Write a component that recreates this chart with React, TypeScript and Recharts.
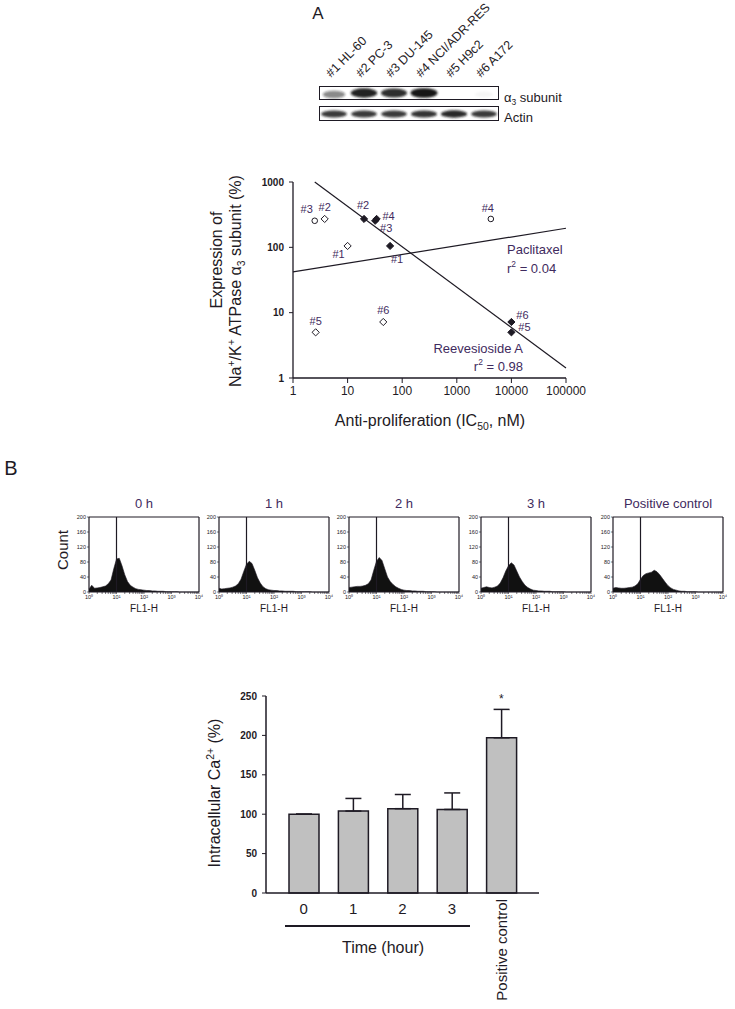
import React from "react";
import {
  BarChart, Bar, ErrorBar, XAxis, YAxis, ReferenceLine, ReferenceDot,
  ScatterChart, Scatter, AreaChart, Area,
} from "recharts";

const FONT = "'Liberation Sans', Arial, sans-serif";
const INK = "#1e1a24";
const PURPLE = "#3f2b5e";

// Panel A - blot lanes and band strength (0..1)
const LANES = ["#1 HL-60", "#2 PC-3", "#3 DU-145", "#4 NCI/ADR-RES", "#5 H9c2", "#6 A172"];
const ALPHA3_BAND = [0.5, 0.95, 0.9, 1.0, 0, 0.04];
const ACTIN_BAND = [0.85, 0.85, 0.85, 0.88, 0.92, 0.85];

// Panel A - expression vs IC50
const CELL_IDS = ["#1", "#2", "#3", "#4", "#5", "#6"];
const ALPHA3_EXPRESSION = [105, 272, 255, 272, 5.0, 7.2];
const IC50_PACLITAXEL = [10, 3.8, 2.5, 4200, 2.6, 45];
const IC50_REEVESIOSIDE = [60, 20, 32, 34, 10000, 10000];
const IC50_TICKS = [1, 10, 100, 1000, 10000, 100000];
const EXPR_TICKS = [1, 10, 100, 1000];
const FIT_PACLITAXEL = [{ x: 1, y: 42 }, { x: 100000, y: 196 }];
const FIT_REEVESIOSIDE = [{ x: 2.5, y: 1000 }, { x: 100000, y: 1.42 }];

// label nudges for the point ids (px)
const LABEL_OFFSET: Record<string, [number, number]> = {
  "open#1": [-9, 8], "open#2": [0, -12], "open#3": [-8, -12],
  "open#4": [-3, -11], "open#5": [0, -11], "open#6": [0, -12],
  "fill#1": [7, 13], "fill#2": [-1, -14], "fill#3": [11, 7],
  "fill#4": [12, -3], "fill#5": [13, -5], "fill#6": [11, -7],
};

// Panel B - flow cytometry (FL1-H, log10 channel)
const FLOW_TITLES = ["0 h", "1 h", "2 h", "3 h", "Positive control"];
const FL1_LOG = [
  0, 0.1, 0.2, 0.3, 0.4, 0.5, 0.6, 0.7, 0.8, 0.9, 1.0, 1.1, 1.2, 1.3, 1.4, 1.5, 1.6, 1.7, 1.8, 1.9,
  2.0, 2.1, 2.2, 2.3, 2.4, 2.5, 2.6, 2.7, 2.8, 2.9, 3.0, 3.1, 3.2, 3.3, 3.4, 3.5, 3.6, 3.7, 3.8, 3.9, 4.0,
];
const COUNT_0H = [8, 18, 10, 11, 12, 14, 16, 22, 32, 62, 88, 90, 70, 46, 28, 18, 13, 9, 7, 6, 5, 4, 4, 3, 3, 2, 2, 2, 1, 1, 1, 1, 1, 0, 0, 0, 0, 0, 0, 0, 0];
const COUNT_1H = [10, 8, 9, 10, 11, 13, 16, 22, 34, 55, 74, 82, 76, 58, 38, 24, 14, 9, 6, 5, 4, 4, 3, 3, 2, 2, 2, 2, 1, 1, 1, 1, 1, 1, 0, 0, 0, 0, 0, 0, 0];
const COUNT_2H = [12, 13, 14, 15, 15, 16, 18, 22, 32, 58, 82, 92, 84, 62, 40, 28, 20, 14, 10, 7, 5, 4, 4, 3, 3, 2, 2, 2, 1, 1, 1, 1, 0, 0, 0, 0, 0, 0, 0, 0, 0];
const COUNT_3H = [10, 12, 14, 12, 11, 13, 16, 24, 38, 56, 70, 78, 72, 56, 40, 28, 18, 12, 8, 5, 4, 3, 3, 2, 2, 2, 1, 1, 1, 1, 1, 0, 0, 0, 0, 0, 0, 0, 0, 0, 0];
const COUNT_POS = [10, 12, 11, 10, 10, 11, 12, 13, 16, 22, 34, 44, 49, 51, 53, 58, 54, 46, 36, 26, 17, 11, 7, 5, 3, 2, 2, 1, 1, 1, 1, 0, 0, 0, 0, 0, 0, 0, 0, 0, 0];
const FLOW_COUNTS = [COUNT_0H, COUNT_1H, COUNT_2H, COUNT_3H, COUNT_POS];
const FLOW_Y_TICKS = [0, 40, 80, 120, 160, 200];
const FLOW_GATE = 1;
const SUP = ["⁰", "¹", "²", "³", "⁴"];

// Panel B - intracellular Ca2+
const CA_GROUPS = ["0", "1", "2", "3", "Positive control"];
const CA_MEAN = [100, 104, 107, 106, 197];
const CA_SD = [0, 16, 18, 21, 36];
const CA_Y_TICKS = [0, 50, 100, 150, 200, 250];

// layout
const FLOW_LEFT = [89, 219, 349, 481, 613];
const FLOW_TOP = 517;
const FLOW_W = 110;
const FLOW_H = 75;
const BLOT_H = 14;

const flowMinor: number[] = [];
for (let d = 0; d < 4; d++) for (let k = 1; k <= 9; k++) flowMinor.push(d + Math.log10(k));
flowMinor.push(4);

const S = ({ up, children }: { up?: boolean; children: React.ReactNode }) => (
  <span style={{ fontSize: "0.65em", lineHeight: 0, verticalAlign: up ? "super" : "sub" }}>{children}</span>
);

function Txt({ x, y, size, color = INK, rot, align = "center", children }: {
  x: number; y: number; size: number; color?: string; rot?: boolean; align?: "left" | "center" | "right"; children: React.ReactNode;
}) {
  const tx = align === "center" ? "-50%" : align === "right" ? "-100%" : "0";
  return (
    <div style={{
      position: "absolute", left: x, top: y, whiteSpace: "nowrap", fontSize: size, lineHeight: 1,
      color, transform: `translate(${tx}, -50%)${rot ? " rotate(-90deg)" : ""}`,
    }}>{children}</div>
  );
}

const Box = ({ left, top, width, height }: { left: number; top: number; width: number; height: number }) => (
  <div style={{ position: "absolute", left, top, width, height, border: `1.5px solid ${INK}`, boxSizing: "border-box" }} />
);

const band = (key: "alpha3" | "actin", ryBase: number) => (p: any) => {
  const v = p.payload[key];
  if (!v) return <g />;
  const cx = p.x + p.width / 2;
  const cy = p.y + p.height - BLOT_H / 2 + (v < 0.6 ? 1.5 : 0);
  const rx = 9 + 4.5 * v;
  const ry = ryBase * (0.6 + 0.4 * v);
  return (
    <g>
      <defs>
        <filter id="blotBlur" x="-50%" y="-100%" width="200%" height="300%">
          <feGaussianBlur stdDeviation="1.2" />
        </filter>
      </defs>
      <ellipse cx={cx} cy={cy} rx={rx} ry={ry} fill={`rgba(25,25,25,${v})`} filter="url(#blotBlur)" />
    </g>
  );
};

const laneTick = (p: any) => {
  const x = p.x - 3;
  return (
    <text x={x} y={78} transform={`rotate(-45 ${x} 78)`} fontSize={12.5} fill={INK} fontFamily={FONT}>
      {p.payload.value}
    </text>
  );
};

const marker = (kind: "open" | "fill") => (p: any) => {
  const { cx, cy, payload } = p;
  const [dx, dy] = LABEL_OFFSET[kind + payload.id];
  const s = 3.6;
  const round = kind === "open" && (payload.id === "#3" || payload.id === "#4");
  return (
    <g>
      {round
        ? <circle cx={cx} cy={cy} r={2.8} fill="#fff" stroke={INK} strokeWidth={1} />
        : <path d={`M${cx},${cy - s}L${cx + s},${cy}L${cx},${cy + s}L${cx - s},${cy}Z`}
            fill={kind === "fill" ? INK : "#fff"} stroke={INK} strokeWidth={1} />}
      <text x={cx + dx} y={cy + dy} dy="0.35em" textAnchor="middle" fontSize={11} fill={PURPLE} fontFamily={FONT}>
        {payload.id}
      </text>
    </g>
  );
};

const caTick = (p: any) => {
  const { x, y, payload } = p;
  if (payload.value === "Positive control") {
    const ty = y - 4;
    return (
      <text x={x} y={ty} transform={`rotate(-90 ${x} ${ty})`} textAnchor="end" dy="0.35em"
        fontSize={15} fill={INK} fontFamily={FONT}>{payload.value}</text>
    );
  }
  return (
    <text x={x} y={y} dy="0.71em" textAnchor="middle" fontSize={15} fill={INK} fontFamily={FONT}>{payload.value}</text>
  );
};

export default function App() {
  const blotRows = LANES.map((lane, i) => ({ lane, alpha3: ALPHA3_BAND[i], actin: ACTIN_BAND[i] }));
  const paclitaxel = CELL_IDS.map((id, i) => ({ id, x: IC50_PACLITAXEL[i], y: ALPHA3_EXPRESSION[i] }));
  const reevesioside = CELL_IDS.map((id, i) => ({ id, x: IC50_REEVESIOSIDE[i], y: ALPHA3_EXPRESSION[i] }));
  const caRows = CA_GROUPS.map((group, i) => ({ group, mean: CA_MEAN[i], err: [0, CA_SD[i]] }));
  const lastCa = CA_GROUPS.length - 1;

  return (
    <div style={{
      position: "absolute", left: 0, top: 0, width: 735, height: 1009, background: "#fff",
      fontFamily: FONT, color: INK, overflow: "hidden",
    }}>
      <style>{`.recharts-surface{overflow:visible}.recharts-wrapper{overflow:visible}`}</style>
      <Txt x={318} y={13} size={17}>A</Txt>
      <Txt x={11} y={468} size={20}>B</Txt>

      {/* western blot */}
      <div style={{ position: "absolute", left: 319, top: 0 }}>
        <BarChart width={180} height={86 + BLOT_H} data={blotRows} margin={{ top: 0, right: 0, left: 0, bottom: 0 }} barCategoryGap={0}>
          <XAxis dataKey="lane" orientation="top" height={86} tickLine={false} axisLine={false} tick={laneTick} interval={0} />
          <YAxis hide domain={[0, 1]} />
          <Bar dataKey="alpha3" shape={band("alpha3", 4.8)} isAnimationActive={false} />
        </BarChart>
      </div>
      <Box left={319} top={86} width={180} height={BLOT_H} />
      <Txt x={504} y={97} size={13} align="left">α<S>3</S> subunit</Txt>

      <div style={{ position: "absolute", left: 319, top: 106 }}>
        <BarChart width={180} height={15} data={blotRows} margin={{ top: 0, right: 0, left: 0, bottom: 0 }} barCategoryGap={0}>
          <XAxis dataKey="lane" hide />
          <YAxis hide domain={[0, 1]} />
          <Bar dataKey="actin" shape={band("actin", 3.8)} isAnimationActive={false} />
        </BarChart>
      </div>
      <Box left={319} top={106} width={180} height={15} />
      <Txt x={504} y={117} size={13} align="left">Actin</Txt>

      {/* expression vs IC50 */}
      <div style={{ position: "absolute", left: 190, top: 150 }}>
        <ScatterChart width={400} height={290} margin={{ top: 32, right: 24, left: 0, bottom: 0 }}>
          <XAxis type="number" dataKey="x" scale="log" domain={[1, 100000]} ticks={IC50_TICKS} allowDataOverflow
            height={62} tickSize={5} tickMargin={3} interval={0}
            tick={{ fill: INK, fontSize: 12, fontFamily: FONT }}
            axisLine={{ stroke: INK, strokeWidth: 1.3 }} tickLine={{ stroke: INK }} />
          <YAxis type="number" dataKey="y" scale="log" domain={[1, 1000]} ticks={EXPR_TICKS} allowDataOverflow
            width={103} tickSize={4} tickMargin={5} interval={0}
            tick={{ fill: INK, fontSize: 10, fontWeight: "bold", fontFamily: FONT }}
            axisLine={{ stroke: INK, strokeWidth: 1.3 }} tickLine={{ stroke: INK }} />
          <ReferenceLine segment={FIT_PACLITAXEL} stroke={INK} strokeWidth={1.2} ifOverflow="visible" />
          <ReferenceLine segment={FIT_REEVESIOSIDE} stroke={INK} strokeWidth={1.2} ifOverflow="visible" />
          <Scatter data={paclitaxel} shape={marker("open")} isAnimationActive={false} />
          <Scatter data={reevesioside} shape={marker("fill")} isAnimationActive={false} />
        </ScatterChart>
      </div>
      <Txt x={217} y={260} size={16} rot>Expression of</Txt>
      <Txt x={236} y={281} size={16} rot>Na<S up>+</S>/K<S up>+</S> ATPase α<S>3</S> subunit (%)</Txt>
      <Txt x={430} y={421} size={16}>Anti-proliferation (IC<S>50</S>, nM)</Txt>
      <Txt x={507} y={249} size={13} color={PURPLE} align="left">Paclitaxel</Txt>
      <Txt x={507} y={268} size={13} color={PURPLE} align="left">r<S up>2</S> = 0.04</Txt>
      <Txt x={523} y={348} size={13} color={PURPLE} align="right">Reevesioside A</Txt>
      <Txt x={523} y={366} size={13} color={PURPLE} align="right">r<S up>2</S> = 0.98</Txt>

      {/* flow histograms */}
      <Txt x={62} y={550} size={15} rot>Count</Txt>
      {FLOW_COUNTS.map((counts, i) => {
        const rows = FL1_LOG.map((x, j) => ({ x, count: counts[j] }));
        const left = FLOW_LEFT[i];
        return (
          <React.Fragment key={FLOW_TITLES[i]}>
            <Txt x={left + FLOW_W / 2} y={503} size={13} color={PURPLE}>{FLOW_TITLES[i]}</Txt>
            <div style={{ position: "absolute", left: left - 20, top: FLOW_TOP - 3 }}>
              <AreaChart width={20 + FLOW_W + 6} height={3 + FLOW_H + 12} data={rows}
                margin={{ top: 3, right: 6, left: 0, bottom: 0 }}>
                <XAxis type="number" dataKey="x" domain={[0, 4]} ticks={flowMinor} interval={0}
                  tickFormatter={(v: number) => (Number.isInteger(v) ? `10${SUP[v]}` : "")}
                  height={12} tickSize={2} tickMargin={1}
                  tick={{ fill: INK, fontSize: 5.5, fontFamily: FONT }}
                  axisLine={{ stroke: INK, strokeWidth: 1.2 }} tickLine={{ stroke: INK, strokeWidth: 0.6 }} />
                <YAxis domain={[0, 200]} ticks={FLOW_Y_TICKS} interval={0} width={20} tickSize={2} tickMargin={1}
                  tick={{ fill: INK, fontSize: 5.5, fontFamily: FONT }}
                  axisLine={{ stroke: INK, strokeWidth: 1.2 }} tickLine={{ stroke: INK, strokeWidth: 0.6 }} />
                <Area dataKey="count" type="linear" stroke={INK} strokeWidth={0.6} fill="#111" fillOpacity={1}
                  isAnimationActive={false} />
                <ReferenceLine x={FLOW_GATE} stroke={INK} strokeWidth={1.2} />
                <ReferenceLine x={4} stroke={INK} strokeWidth={1.2} />
                <ReferenceLine y={200} stroke={INK} strokeWidth={1.2} />
              </AreaChart>
            </div>
            <Txt x={left + FLOW_W / 2} y={609} size={10}>FL1-H</Txt>
          </React.Fragment>
        );
      })}

      {/* intracellular Ca2+ */}
      <div style={{ position: "absolute", left: 220, top: 680 }}>
        <BarChart width={319} height={329} data={caRows} margin={{ top: 16, right: 0, left: 0, bottom: 0 }} barSize={30}>
          <XAxis dataKey="group" height={116} padding={{ left: 13, right: 13 }} tickLine={false} tickSize={0}
            tickMargin={10} tick={caTick} interval={0} axisLine={{ stroke: INK, strokeWidth: 1.5 }} />
          <YAxis domain={[0, 250]} ticks={CA_Y_TICKS} interval={0} width={46} tickSize={4} tickMargin={5}
            tick={{ fill: INK, fontSize: 10, fontWeight: "bold", fontFamily: FONT }}
            axisLine={{ stroke: INK, strokeWidth: 1.5 }} tickLine={{ stroke: INK }} />
          <Bar dataKey="mean" fill="#c0c0c0" stroke={INK} strokeWidth={1.5} isAnimationActive={false}>
            <ErrorBar dataKey="err" width={8} stroke={INK} strokeWidth={1.5} direction="y" />
          </Bar>
          <ReferenceDot x={CA_GROUPS[lastCa]} y={CA_MEAN[lastCa] + CA_SD[lastCa]} r={1} fill="none" stroke="none"
            label={{ value: "*", position: "top", fontSize: 12, fill: INK }} />
        </BarChart>
      </div>
      <Txt x={215} y={793} size={16} rot>Intracellular Ca<S up>2+</S> (%)</Txt>
      <div style={{ position: "absolute", left: 285, top: 925, width: 185, height: 1.5, background: INK }} />
      <Txt x={383} y={948} size={16}>Time (hour)</Txt>
    </div>
  );
}
